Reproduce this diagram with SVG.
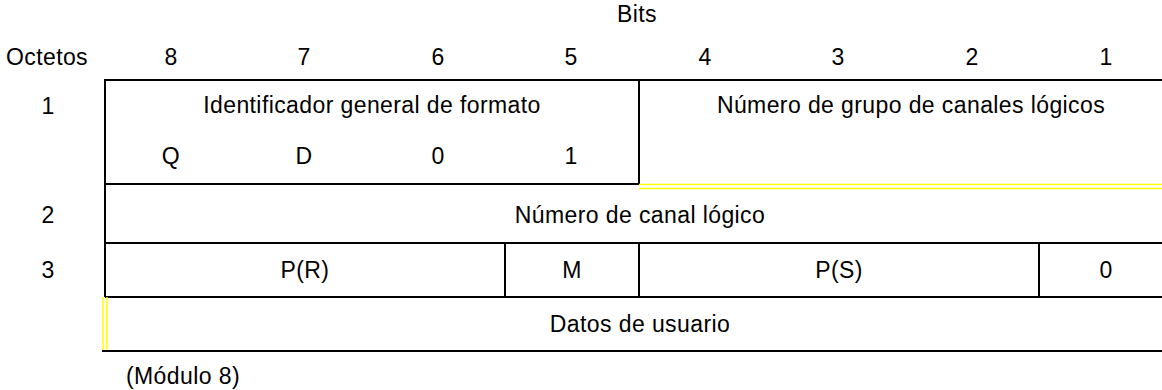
<svg xmlns="http://www.w3.org/2000/svg" width="1162" height="390" viewBox="0 0 1162 390">
<style>
text{font-family:"Liberation Sans",Arial,sans-serif;font-size:23px;letter-spacing:0.4px;fill:#000;text-anchor:middle}
.l{stroke:#000;stroke-width:2;fill:none}
.y{stroke:#ffff00;stroke-width:1.5;fill:none}
</style>
<rect width="1162" height="390" fill="#fff"/>
<g id="headers">
<text x="637" y="22">Bits</text>
<text x="47" y="65">Octetos</text>
<text x="171" y="65">8</text>
<text x="304" y="65">7</text>
<text x="438" y="65">6</text>
<text x="571" y="65">5</text>
<text x="705" y="65">4</text>
<text x="838" y="65">3</text>
<text x="972" y="65">2</text>
<text x="1106" y="65">1</text>
<text x="48" y="114">1</text>
<text x="48" y="223">2</text>
<text x="48" y="278">3</text>
</g>
<g id="connectors">
<path class="l" d="M105 80H1162M105 79V297M639 80V184M105 184H639M105 243H1162M105 297H1162M505 243V297M639 243V297M1039 243V297M102 351H1162"/>
<path class="y" d="M639 184.5H1162M639 188.5H1162M103 297V350M107 297V350"/>
</g>
<g id="format"><text x="372" y="113">Identificador general de formato</text>
<text x="171" y="164">Q</text><text x="304" y="164">D</text><text x="438" y="164">0</text><text x="571" y="164">1</text></g>
<g id="group"><text x="911" y="113">Número de grupo de canales lógicos</text></g>
<g id="channel"><text x="640" y="223">Número de canal lógico</text></g>
<g id="pr"><text x="305" y="278">P(R)</text></g>
<g id="m"><text x="572" y="278">M</text></g>
<g id="ps"><text x="839" y="278">P(S)</text></g>
<g id="zero"><text x="1106" y="278">0</text></g>
<g id="data"><text x="640" y="332">Datos de usuario</text></g>
<text x="126" y="384" style="text-anchor:start">(Módulo 8)</text>
</svg>
